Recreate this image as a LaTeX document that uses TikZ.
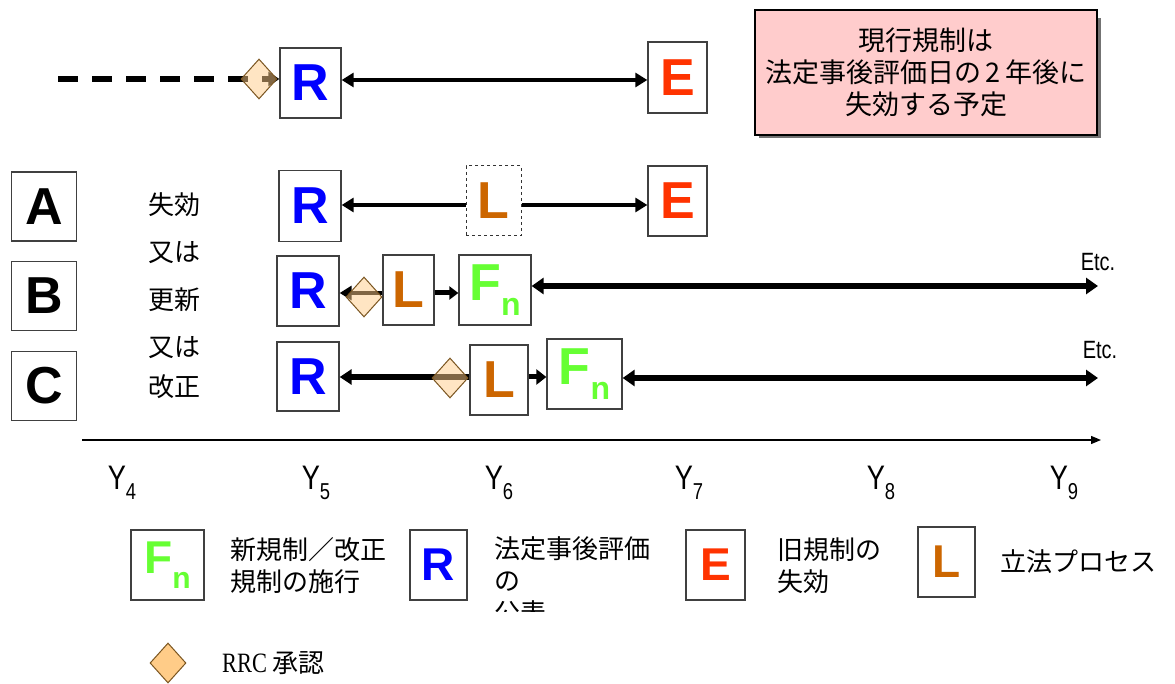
\documentclass[tikz,border=0pt]{standalone}
\usepackage{fontspec}
\setmainfont{Liberation Sans}
\newfontfamily\cjk{Noto Sans CJK JP}
\newfontfamily\narrowf[FakeStretch=0.8]{Liberation Sans}
\newfontfamily\serifn[FakeStretch=0.8]{Liberation Serif}
\usetikzlibrary{arrows.meta,shapes.geometric}
\definecolor{rblue}{HTML}{0000FF}
\definecolor{ered}{HTML}{FF3300}
\definecolor{lbrown}{HTML}{CC6600}
\definecolor{fgreen}{HTML}{66FF33}
\definecolor{dfill}{HTML}{FFCC88}
\definecolor{ddraw}{HTML}{7A5520}
\definecolor{notepink}{HTML}{FFCCCC}
\tikzset{
  box/.style={draw=black!75, line width=1.3pt, fill=white, inner sep=0pt, font=\fontsize{52}{52}\selectfont\bfseries},
  lgbox/.style={box, font=\fontsize{46}{46}\selectfont\bfseries},
  rrc/.style={diamond, draw=ddraw, line width=1pt, fill=dfill, fill opacity=0.5, draw opacity=1, inner sep=0pt, minimum width=36pt, minimum height=40pt},
  tarr/.style={line width=4.5pt, -{Triangle[length=12pt,width=14pt]}},
  barr/.style={line width=6pt, {Triangle[length=12pt,width=16pt]}-{Triangle[length=12pt,width=16pt]}},
  darr/.style={line width=4.5pt, {Triangle[length=12pt,width=14pt]}-{Triangle[length=12pt,width=14pt]}},
  cjkt/.style={font=\cjk\fontsize{26}{32}\selectfont, inner sep=0pt},
  etc/.style={font=\narrowf\fontsize{25}{25}\selectfont, inner sep=0pt},
  ylab/.style={font=\narrowf\fontsize{34}{34}\selectfont, inner sep=0pt},
}
\newcommand{\Fn}[1]{\textcolor{fgreen}{F\raisebox{-15pt}{\fontsize{#1}{#1}\selectfont n}}}
\newcommand{\Ysub}[1]{Y\raisebox{-10pt}{\fontsize{23}{23}\selectfont #1}}
\begin{document}
\begin{tikzpicture}[x=1pt,y=-1pt]
\useasboundingbox (0,0) rectangle (1175,684);

% note box with shadow
\fill[black!55] (759,18) rectangle (1101,138);
\node[draw=black, line width=2pt, fill=notepink, minimum width=342pt, minimum height=125pt, inner sep=0pt, align=center, font=\cjk\fontsize{27}{32}\selectfont] (note) at (926,72.5) {現行規制は\\法定事後評価日の\,2\,年後に\\失効する予定};

% top row
\coordinate (ds) at (58,79);
\node[box, minimum width=61pt, minimum height=70pt] (r0) at (310.5,83) {\textcolor{rblue}{R}};
\node[box, minimum width=59pt, minimum height=71pt] (e0) at (677.5,77.5) {\textcolor{ered}{E}};
\draw[line width=6pt, dash pattern=on 20pt off 14pt, -{Triangle[length=11pt,width=14pt]}] (ds) -- (r0.west |- ds);
\node[rrc] (d0) at (259,79) {};
\draw[darr] (r0.east |- 0,80) -- (e0.west |- 0,80);

% row labels
\node[box, minimum width=65pt, minimum height=69pt] (A) at (44,206.5) {A};
\node[box, minimum width=65pt, minimum height=69pt] (B) at (44,296) {B};
\node[box, minimum width=65pt, minimum height=69pt] (C) at (44,386) {C};
\node[cjkt] (t1) at (174,205) {失効};
\node[cjkt] (t2) at (174,253) {又は};
\node[cjkt] (t3) at (174,300) {更新};
\node[cjkt] (t4) at (174,348) {又は};
\node[cjkt] (t5) at (174,387) {改正};

% row A
\node[box, minimum width=62pt, minimum height=71pt] (ra) at (310,206) {\textcolor{rblue}{R}};
\node[box, dashed, draw=black!80, line width=1pt, minimum width=55pt, minimum height=70pt] (la) at (493.5,201) {\textcolor{lbrown}{L}};
\node[box, minimum width=59pt, minimum height=70pt] (ea) at (677.5,201) {\textcolor{ered}{E}};
\draw[tarr] (la.west |- 0,205) -- (ra.east |- 0,205);
\draw[tarr] (la.east |- 0,205) -- (ea.west |- 0,205);

% row B
\node[box, minimum width=62pt, minimum height=70pt] (rb) at (308,291) {\textcolor{rblue}{R}};
\node[box, minimum width=51pt, minimum height=70pt] (lb) at (408.5,290) {\textcolor{lbrown}{L}};
\node[box, minimum width=72pt, minimum height=70pt] (fb) at (495,290) {\Fn{32}};
\draw[tarr] (lb.west |- 0,293) -- (rb.east |- 0,293);
\node[rrc] (db) at (364,297) {};
\draw[line width=5pt, -{Triangle[length=9pt,width=13pt]}] (lb.east |- 0,293) -- (fb.west |- 0,293);
\coordinate (eb) at (1098,286);
\draw[barr] (fb.east |- eb) -- (eb);
\node[etc] (etcb) at (1098,262) {Etc.};

% row C
\node[box, minimum width=62pt, minimum height=69pt] (rc) at (308,376.5) {\textcolor{rblue}{R}};
\node[box, minimum width=58pt, minimum height=70pt] (lc) at (499,380) {\textcolor{lbrown}{L}};
\node[box, minimum width=75pt, minimum height=70pt] (fc) at (584.5,374) {\Fn{32}};
\draw[line width=5.5pt, -{Triangle[length=12pt,width=15pt]}] (lc.west |- 0,377) -- (rc.east |- 0,377);
\node[rrc] (dc) at (450,378) {};
\draw[line width=5pt, -{Triangle[length=10pt,width=15pt]}] (lc.east |- 0,377) -- (fc.west |- 0,377);
\coordinate (ec) at (1098,378);
\draw[barr] (fc.east |- ec) -- (ec);
\node[etc] (etcc) at (1100,350) {Etc.};

% axis
\coordinate (ax0) at (82,440);
\coordinate (ax1) at (1101,440);
\draw[line width=1.3pt, -{Triangle[length=10pt,width=8pt]}] (ax0) -- (ax1);
\node[ylab] (y4) at (122,483) {\Ysub{4}};
\node[ylab] (y5) at (316,483) {\Ysub{5}};
\node[ylab] (y6) at (499,483) {\Ysub{6}};
\node[ylab] (y7) at (689,483) {\Ysub{7}};
\node[ylab] (y8) at (881,483) {\Ysub{8}};
\node[ylab] (y9) at (1064,483) {\Ysub{9}};

% legend
\node[lgbox, minimum width=73pt, minimum height=70pt] (lgf) at (167.5,565) {\Fn{30}};
\node[cjkt, anchor=west, align=left] (lgft) at (230,566) {新規制／改正\\規制の施行};
\node[lgbox, minimum width=57pt, minimum height=70pt] (lgr) at (438.5,565) {\textcolor{rblue}{R}};
\begin{scope}
\clip (480,520) rectangle (700,611);
\node[cjkt, anchor=north west, align=left] (lgrt) at (494,536) {法定事後評価\\の\\公表};
\end{scope}
\node[lgbox, minimum width=59pt, minimum height=70pt] (lge) at (715.5,565) {\textcolor{ered}{E}};
\node[cjkt, anchor=west, align=left] (lget) at (777,566) {旧規制の\\失効};
\node[lgbox, minimum width=57pt, minimum height=70pt] (lgl) at (946.5,562) {\textcolor{lbrown}{L}};
\node[cjkt, anchor=west] (lglt) at (1000,562) {立法プロセス};
\node[rrc, fill opacity=1] (lgd) at (168,663) {};
\node[cjkt, anchor=west] (lgdt) at (222,663) {{\serifn\fontsize{28}{28}\selectfont RRC} 承認};
\end{tikzpicture}
\end{document}
